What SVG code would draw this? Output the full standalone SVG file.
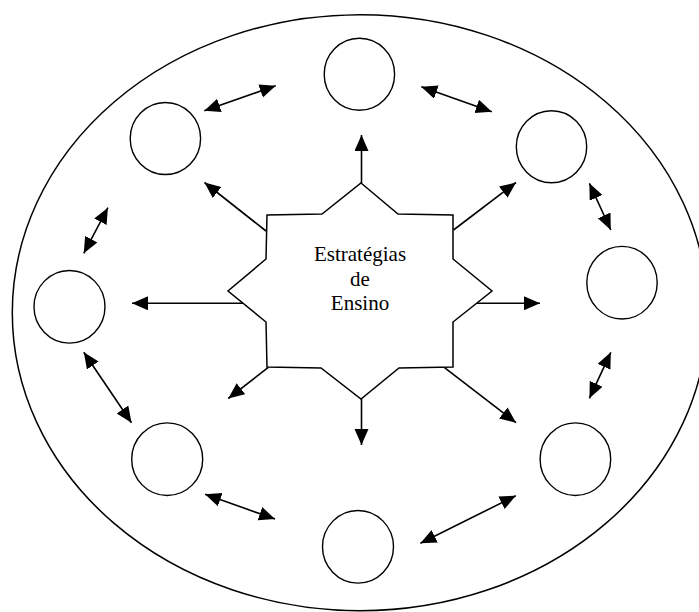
<svg xmlns="http://www.w3.org/2000/svg" width="699" height="612" viewBox="0 0 699 612">
<style>
.shape{fill:#fff;stroke:#000;stroke-width:1.5}
.node{fill:#fff;stroke:#000;stroke-width:1.4}
.conn line{stroke:#000;stroke-width:1.6}
.lbl{font-family:"Liberation Serif","Times New Roman",serif;font-size:21px;fill:#000;text-anchor:middle}
</style>
<defs>
<marker id="ah" markerUnits="userSpaceOnUse" markerWidth="17" markerHeight="15" refX="16" refY="7" orient="auto-start-reverse">
<path d="M0,0 L16,7 L0,14 Z" fill="#000"/>
</marker>
</defs>
<rect width="699" height="612" fill="#fff"/>
<ellipse id="outer" class="shape" cx="360" cy="312.7" rx="347.7" ry="298"/>
<g id="center">
<polygon class="shape" points="361,183 398,214 453,215 453,259 492,291 453,322 453,367 399,368 361,399 321,368 267,367 266,322 228,291 266,259 267,215 322,214"/>
<text class="lbl" x="360" y="261">Estratégias</text>
<text class="lbl" x="360" y="285.5">de</text>
<text class="lbl" x="360" y="309.5">Ensino</text>
</g>
<g id="n-top"><ellipse class="node" cx="359.4" cy="74.2" rx="35.2" ry="36"/></g>
<g id="n-topleft"><ellipse class="node" cx="165.4" cy="138.5" rx="35.2" ry="36"/></g>
<g id="n-topright"><ellipse class="node" cx="551.5" cy="146.8" rx="35.2" ry="36"/></g>
<g id="n-left"><ellipse class="node" cx="69.5" cy="306.8" rx="35.5" ry="36.3"/></g>
<g id="n-right"><ellipse class="node" cx="622" cy="282.7" rx="35.2" ry="36.3"/></g>
<g id="n-bottomleft"><ellipse class="node" cx="167.2" cy="459.2" rx="35.5" ry="36.3"/></g>
<g id="n-bottom"><ellipse class="node" cx="358" cy="546.8" rx="35.5" ry="36.3"/></g>
<g id="n-bottomright"><ellipse class="node" cx="575.4" cy="459.2" rx="35.3" ry="36.3"/></g>
<g id="connectors" class="conn">
<line x1="361.5" y1="183" x2="361.5" y2="135" marker-end="url(#ah)"/>
<line x1="266" y1="231" x2="204.5" y2="182.5" marker-end="url(#ah)"/>
<line x1="453.5" y1="230" x2="516" y2="182.5" marker-end="url(#ah)"/>
<line x1="243" y1="303.3" x2="132" y2="303.3" marker-end="url(#ah)"/>
<line x1="477" y1="303.3" x2="540" y2="303.3" marker-end="url(#ah)"/>
<line x1="268.3" y1="367.3" x2="228.3" y2="398.5" marker-end="url(#ah)"/>
<line x1="444.5" y1="367.7" x2="516" y2="422.7" marker-end="url(#ah)"/>
<line x1="361.5" y1="399" x2="361.5" y2="445" marker-end="url(#ah)"/>
<line x1="204.3" y1="110.7" x2="275.7" y2="85.7" marker-start="url(#ah)" marker-end="url(#ah)"/>
<line x1="421.3" y1="86.7" x2="491.8" y2="111.7" marker-start="url(#ah)" marker-end="url(#ah)"/>
<line x1="589.4" y1="183.3" x2="610.8" y2="230" marker-start="url(#ah)" marker-end="url(#ah)"/>
<line x1="610.8" y1="352.3" x2="589.4" y2="398.3" marker-start="url(#ah)" marker-end="url(#ah)"/>
<line x1="107.9" y1="207.7" x2="83.8" y2="253.3" marker-start="url(#ah)" marker-end="url(#ah)"/>
<line x1="83.8" y1="352.3" x2="131.5" y2="422.7" marker-start="url(#ah)" marker-end="url(#ah)"/>
<line x1="205.1" y1="494.3" x2="275" y2="519" marker-start="url(#ah)" marker-end="url(#ah)"/>
<line x1="420.4" y1="543.3" x2="515.8" y2="495.7" marker-start="url(#ah)" marker-end="url(#ah)"/>
</g>
</svg>
